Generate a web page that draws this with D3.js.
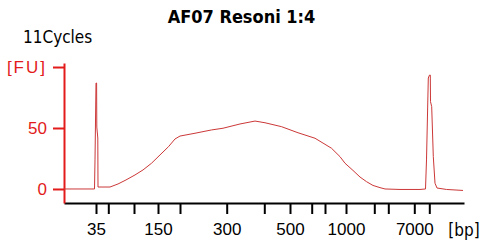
<!DOCTYPE html>
<html>
<head>
<meta charset="utf-8">
<script src="https://cdn.jsdelivr.net/npm/d3@7"></script>
<style>
  body { margin: 0; background: #fff; }
  svg { display: block; font-family: "DejaVu Sans Condensed", "DejaVu Sans", sans-serif; }
</style>
</head>
<body>
<svg id="chart" width="493" height="243"></svg>
<script>
// migration time (s) and fluorescence (FU)
var trace_time = [40.0, 46.1, 46.2, 46.4, 46.52, 46.56, 46.76, 46.8, 49.2, 50.8, 52.4, 54.2, 55.8,
    57.5, 59.2, 60.9, 62.2, 63.2, 66.2, 69.5, 71.8, 75.2, 78.2, 80.2, 83.5, 86.8, 90.2, 93.5,
    95.2, 96.2, 97.8, 99.2, 100.5, 101.8, 103.2, 104.2, 107.2, 111.2, 112.3, 112.5, 112.86,
    113.1, 113.26, 113.3, 113.54, 113.86, 114.2, 114.6, 116.5, 119.8];
var trace_fu = [0, 0, 23.8, 86.9, 86.9, 50.8, 41.8, 1.6, 1.6, 4.1, 7.4, 11.5, 15.6,
    21.1, 27.9, 34.7, 41.0, 43.4, 45.7, 48.4, 49.8, 53.3, 55.7, 54.3, 51.1, 46.1, 41.6, 33.4,
    26.5, 21.1, 15.2, 9.8, 6.0, 2.9, 1.1, 0, -0.4, -0.4, 0, 23.8, 91.0,
    93.4, 93.4, 71.6, 67.5, 26.5, 4.7, 0.8, -0.4, -1.2];

// ladder sizes and where they sit on the time axis
var ladder_bp = [35, 50, 100, 150, 200, 300, 400, 500, 600, 700, 1000, 2000, 3000, 7000, 10380];
var ladder_time = [46.4, 48.86, 54.0, 58.8, 63.2, 72.54, 80.06, 85.2, 89.54, 92.2, 96.4,
    102.06, 104.86, 110.06, 113.06];
var ladder_labeled = [35, 150, 300, 500, 1000, 7000];

var fu_ticks = [0, 50, 100];
var fu_labels = ['0', '50', '[FU]'];

var svg = d3.select('#chart');

var x = d3.scaleLinear().domain([40, 120]).range([64, 464]);
var y = d3.scaleLinear().domain([-11.5, 103.3]).range([203, 63]);

var red = '#e21b1b';

// title and sample label
svg.append('text')
    .attr('x', 241.5)
    .attr('y', 23)
    .attr('text-anchor', 'middle')
    .attr('font-weight', 'bold')
    .attr('font-size', 18)
    .text('AF07 Resoni 1:4');

svg.append('text')
    .attr('x', 23)
    .attr('y', 43)
    .attr('font-size', 17)
    .text('11Cycles');

// x axis (black)
var xAxis = d3.axisBottom(x)
    .tickValues(ladder_time)
    .tickSize(11)
    .tickSizeOuter(0)
    .tickPadding(9)
    .tickFormat(function(d, i) {
        var bp = ladder_bp[i];
        return ladder_labeled.indexOf(bp) >= 0 ? bp : '';
    });

var gx = svg.append('g')
    .attr('transform', 'translate(0,203)')
    .call(xAxis);
gx.select('.domain').attr('stroke', '#000').attr('stroke-width', 2);
gx.selectAll('.tick line').attr('stroke', '#000').attr('stroke-width', 2);
gx.selectAll('.tick text')
    .attr('font-family', null)
    .attr('font-size', 17)
    .attr('fill', '#000');

svg.append('text')
    .attr('x', 464)
    .attr('y', 236)
    .attr('text-anchor', 'middle')
    .attr('font-size', 17)
    .text('[bp]');

// y axis (red)
var yAxis = d3.axisLeft(y)
    .tickValues(fu_ticks)
    .tickSize(11)
    .tickSizeOuter(0)
    .tickPadding(6)
    .tickFormat(function(d, i) { return fu_labels[i]; });

var gy = svg.append('g')
    .attr('transform', 'translate(64,0)')
    .call(yAxis);
gy.select('.domain').attr('stroke', red).attr('stroke-width', 2);
gy.selectAll('.tick line').attr('stroke', red).attr('stroke-width', 2);
gy.selectAll('.tick text')
    .attr('font-family', null)
    .attr('font-size', 17)
    .attr('fill', red)
    .attr('letter-spacing', function(d) { return d === 100 ? 2 : null; });

// electropherogram trace
var pts = trace_time.map(function(t, i) { return [t, trace_fu[i]]; });

var line = d3.line()
    .x(function(d) { return x(d[0]); })
    .y(function(d) { return y(d[1]); });

svg.append('path')
    .datum(pts)
    .attr('fill', 'none')
    .attr('stroke', '#cc3838')
    .attr('stroke-width', 1)
    .attr('d', line);
</script>
</body>
</html>
